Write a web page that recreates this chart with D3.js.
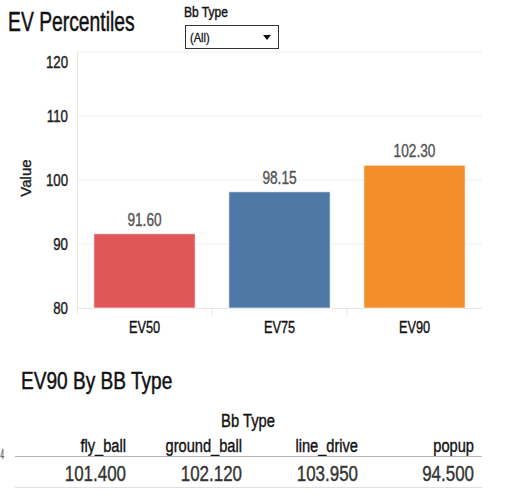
<!DOCTYPE html>
<html>
<head>
<meta charset="utf-8">
<script src="https://cdn.jsdelivr.net/npm/d3@7"></script>
<style>
  body { margin: 0; background: #fff; }
  svg { display: block; }
</style>
</head>
<body>
<div class="chart"></div>
<script>
// chart data
var percentiles = ["EV50", "EV75", "EV90"];
var percentileValues = [91.60, 98.15, 102.30];
var percentileColors = ["#E15759", "#4E79A7", "#F28E2B"];
var yTicks = [80, 90, 100, 110, 120];

// table data
var bbTypes = ["fly_ball", "ground_ball", "line_drive", "popup"];
var ev90Values = [101.400, 102.120, 103.950, 94.500];

var W = 505, H = 499;
var FONT = "'Liberation Sans', Arial, sans-serif";

var svg = d3.select(".chart")
    .append("svg")
    .attr("width", W)
    .attr("height", H);

// condensed text: squeeze the glyphs horizontally around the anchor point
function label(g, x, y, str, size, opts) {
    opts = opts || {};
    var sx = opts.sx || 0.8;
    var fill = opts.fill || "#222";
    return g.append("text")
        .attr("transform", "translate(" + x + "," + y + ") scale(" + sx + ",1)" + (opts.rotate ? " rotate(" + opts.rotate + ")" : ""))
        .attr("text-anchor", opts.anchor || "start")
        .style("font-family", FONT)
        .style("font-size", size + "px")
        .style("fill", fill)
        .style("stroke", fill)
        .style("stroke-width", opts.weight == null ? 0.4 : opts.weight)
        .text(str);
}

// ---- top section: EV Percentiles
label(svg, 8, 31, "EV Percentiles", 28, { sx: 0.69, fill: "#111", weight: 0.5 });

// filter control
label(svg, 184, 17, "Bb Type", 14, { sx: 0.86, fill: "#111" });
svg.append("rect")
    .attr("x", 185.5).attr("y", 25.5)
    .attr("width", 93).attr("height", 23)
    .attr("fill", "#fff").attr("stroke", "#333");
label(svg, 190, 42, "(All)", 13, { sx: 0.85, fill: "#111", weight: 0.3 });
svg.append("path")
    .attr("d", "M263,35 L271,35 L267,40 Z")
    .attr("fill", "#111");

var margin = { top: 52, left: 77, right: 23, bottom: 191 };
var width = W - margin.left - margin.right;
var height = H - margin.top - margin.bottom;

var chartGroup = svg.append("g")
    .attr("transform", "translate(" + margin.left + "," + margin.top + ")");

var x = d3.scaleBand()
    .domain(percentiles)
    .range([0, width])
    .paddingInner(0.25)
    .paddingOuter(0.125);

var y = d3.scaleLinear()
    .domain([80, 120])
    .range([height, 0]);

// gridlines
chartGroup.append("g")
    .selectAll("line")
    .data(yTicks.slice(1))
    .enter().append("line")
    .attr("x1", 0).attr("x2", width)
    .attr("y1", function (d) { return y(d); })
    .attr("y2", function (d) { return y(d); })
    .attr("stroke", "#f0f0f0");

// axis lines
chartGroup.append("line")
    .attr("x1", 0.5).attr("x2", 0.5)
    .attr("y1", 0).attr("y2", height + 6)
    .attr("stroke", "#e6e6e6");
chartGroup.append("line")
    .attr("x1", 0).attr("x2", width)
    .attr("y1", height + 0.5).attr("y2", height + 0.5)
    .attr("stroke", "#e6e6e6");

// separators between the categories
chartGroup.append("g")
    .selectAll("line")
    .data(percentiles.slice(1))
    .enter().append("line")
    .attr("x1", function (d) { return x(d) - x.step() * x.paddingInner() / 2; })
    .attr("x2", function (d) { return x(d) - x.step() * x.paddingInner() / 2; })
    .attr("y1", height).attr("y2", height + 7)
    .attr("stroke", "#e6e6e6");

// y tick labels (top one nudged inside like the original)
yTicks.forEach(function (t) {
    var yy = y(t) + 6 + (t === 120 ? 10 : 0);
    label(chartGroup, -9, yy, String(t), 17, { sx: 0.78, anchor: "end", fill: "#222" });
});

// bars
chartGroup.append("g")
    .selectAll("rect")
    .data(percentiles)
    .enter().append("rect")
    .attr("x", function (d) { return x(d); })
    .attr("y", function (d, i) { return y(percentileValues[i]); })
    .attr("width", x.bandwidth())
    .attr("height", function (d, i) { return y(80) - y(percentileValues[i]); })
    .attr("fill", function (d, i) { return percentileColors[i]; })
    .attr("stroke", "#fff")
    .attr("stroke-opacity", 0.6)
    .attr("stroke-width", 1);

// bar value labels and category labels
percentiles.forEach(function (p, i) {
    label(chartGroup, x(p) + x.bandwidth() / 2, y(percentileValues[i]) - 8,
        percentileValues[i].toFixed(2), 18, { sx: 0.76, anchor: "middle", fill: "#555" });
    label(chartGroup, x(p) + x.bandwidth() / 2, height + 25, p, 17, { sx: 0.75, anchor: "middle", fill: "#111" });
});

// y axis title
label(svg, 31, 178, "Value", 15, { sx: 1, anchor: "middle", fill: "#222", rotate: -90 });

// ---- bottom section: EV90 By BB Type
label(svg, 21, 389, "EV90 By BB Type", 23, { sx: 0.83, fill: "#111", weight: 0.45 });

var col = d3.scalePoint()
    .domain(bbTypes)
    .range([126, 474]);

label(svg, 248, 427, "Bb Type", 18, { sx: 0.82, anchor: "middle", fill: "#111" });

bbTypes.forEach(function (t, i) {
    label(svg, col(t), 452, t, 19, { sx: 0.77, anchor: "end", fill: "#111" });
    label(svg, col(t), 481, ev90Values[i].toFixed(3), 22, { sx: 0.77, anchor: "end", fill: "#333" });
});

svg.append("line")
    .attr("x1", 15).attr("x2", 482)
    .attr("y1", 456.5).attr("y2", 456.5)
    .attr("stroke", "#b5b5b5");
svg.append("line")
    .attr("x1", 15).attr("x2", 482)
    .attr("y1", 487.5).attr("y2", 487.5)
    .attr("stroke", "#e0e0e0");

// partially visible label at the left edge
label(svg, 0.5, 459, "4", 14, { sx: 0.45, anchor: "start", fill: "#666" });
</script>
</body>
</html>
